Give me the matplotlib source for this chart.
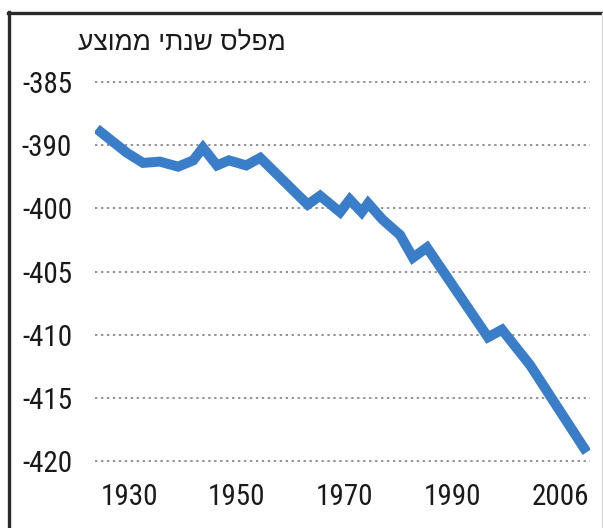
import matplotlib
matplotlib.use("Agg")
import matplotlib.pyplot as plt
from matplotlib.lines import Line2D
from matplotlib import font_manager

# ---- data ----
title = "מפלס שנתי ממוצע"
years = [1924, 1929.6, 1932.6, 1935.7, 1939.1, 1941.9, 1943.7, 1946.3, 1948.5,
         1951.7, 1954.3, 1963.1, 1965.4, 1969.1, 1970.9, 1973.1, 1974.3, 1977.0,
         1980.2, 1982.6, 1985.2, 1996.5, 1999.1, 2004.3, 2014.8]
level = [-393.7, -395.6, -396.4, -396.3, -396.7, -396.2, -395.2, -396.6, -396.2,
         -396.6, -396.0, -399.7, -399.0, -400.3, -399.3, -400.3, -399.6, -400.9,
         -402.1, -403.9, -403.1, -410.2, -409.6, -412.4, -419.3]
y_ticks = [-420, -415, -410, -405, -400, -395, -390]
y_tick_labels = ["-420", "-415", "-410", "-405", "-400", "-390", "-385"]
x_ticks = [1930, 1950, 1970, 1990, 2010]
x_tick_labels = ["1930", "1950", "1970", "1990", "2006"]

installed = {f.name for f in font_manager.fontManager.ttflist}
narrow = None
for cand in ["Liberation Sans Narrow", "Roboto Condensed", "Open Sans Condensed"]:
    if cand in installed:
        narrow = cand
        break
if narrow:
    fam = [narrow, "DejaVu Sans"]
    fsize = 21
else:
    fam = ["Liberation Sans", "DejaVu Sans"]
    fsize = 19.5

W, H = 603, 528
fig = plt.figure(figsize=(W / 100, H / 100), dpi=100)
fig.patch.set_facecolor("white")

left_px, right_px, top_px, bot_px = 95, 590, 70, 475
ax = fig.add_axes([left_px / W, 1 - bot_px / H, (right_px - left_px) / W, (bot_px - top_px) / H])
ax.set_facecolor("none")

ax.set_xlim(1923.7, 2015.4)
ax.set_ylim(-421.1, -389.05)

for v in y_ticks:
    ax.axhline(v, color="#8a8a8a", lw=1.3, linestyle=(0, (1.3, 2.0)), zorder=1)

ax.plot(years, level, color="#3a7dc8", lw=7.2, solid_capstyle="butt",
        solid_joinstyle="miter", zorder=3)

ax.set_yticks(y_ticks)
ax.set_yticklabels(y_tick_labels, family=fam, fontsize=fsize, color="#1a1a1a")
ax.set_xticks(x_ticks)
ax.set_xticklabels(x_tick_labels, family=fam, fontsize=fsize, color="#1a1a1a")
ax.tick_params(axis="y", length=0, pad=16.5)
ax.tick_params(axis="x", length=0, pad=6)
for s in ax.spines.values():
    s.set_visible(False)

# title (Hebrew, reversed to visual order since matplotlib has no bidi)
fig.text(182 / W, 1 - 43 / H, title[::-1], ha="center", va="center",
         fontsize=19, family=["Liberation Sans", "DejaVu Sans"], color="#1a1a1a")

# frame
fig.add_artist(Line2D([9 / W, 9 / W], [0, 1 - 12 / H], transform=fig.transFigure,
                      color="#2a2a2a", lw=2.4))
fig.add_artist(Line2D([8 / W, 1], [1 - 13 / H, 1 - 13 / H], transform=fig.transFigure,
                      color="#2a2a2a", lw=2.4))
fig.add_artist(Line2D([601.5 / W, 601.5 / W], [0, 1 - 13 / H], transform=fig.transFigure,
                      color="#d8d8d8", lw=1))

fig.savefig("out.png", dpi=100)
